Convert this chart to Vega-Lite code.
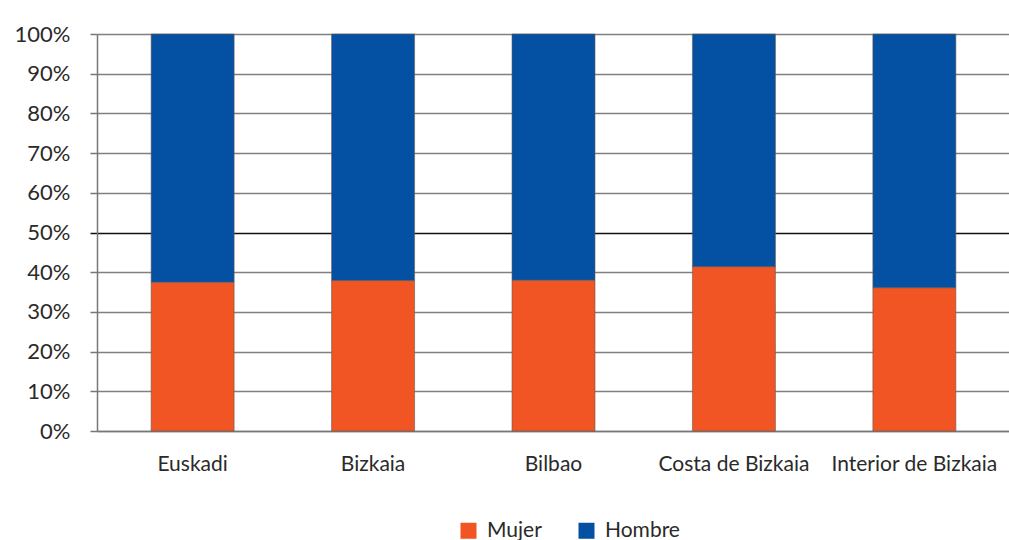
{
  "$schema": "https://vega.github.io/schema/vega-lite/v6.json",
  "autosize": {"type": "none"},
  "padding": {"left": 97, "top": 34, "right": 0, "bottom": 109},
  "width": 913,
  "height": 397,
  "background": "white",
  "config": {
    "font": "Lato",
    "view": {"stroke": null}
  },
  "data": {
    "values": [
      {"zona": "Euskadi", "sexo": "Mujer", "valor": 37.5},
      {"zona": "Euskadi", "sexo": "Hombre", "valor": 62.5},
      {"zona": "Bizkaia", "sexo": "Mujer", "valor": 37.9},
      {"zona": "Bizkaia", "sexo": "Hombre", "valor": 62.1},
      {"zona": "Bilbao", "sexo": "Mujer", "valor": 38.0},
      {"zona": "Bilbao", "sexo": "Hombre", "valor": 62.0},
      {"zona": "Costa de Bizkaia", "sexo": "Mujer", "valor": 41.4},
      {"zona": "Costa de Bizkaia", "sexo": "Hombre", "valor": 58.6},
      {"zona": "Interior de Bizkaia", "sexo": "Mujer", "valor": 36.1},
      {"zona": "Interior de Bizkaia", "sexo": "Hombre", "valor": 63.9}
    ]
  },
  "mark": {"type": "bar", "stroke": "#6a5a50", "strokeWidth": 0.6},
  "encoding": {
    "x": {
      "field": "zona",
      "type": "nominal",
      "sort": ["Euskadi", "Bizkaia", "Bilbao", "Costa de Bizkaia", "Interior de Bizkaia"],
      "scale": {"paddingInner": 0.54, "paddingOuter": 0.3},
      "axis": {
        "title": null,
        "labelAngle": 0,
        "labelFontSize": 21,
        "labelColor": "#2a2a2a",
        "labelPadding": 22,
        "ticks": false,
        "domain": true,
        "domainColor": "#777777",
        "domainWidth": 1.5,
        "labelOverlap": false,
        "labelBound": false
      }
    },
    "y": {
      "field": "valor",
      "type": "quantitative",
      "stack": "normalize",
      "scale": {"domain": [0, 1]},
      "axis": {
        "title": null,
        "format": ".0%",
        "values": [0, 0.1, 0.2, 0.3, 0.4, 0.5, 0.6, 0.7, 0.8, 0.9, 1],
        "labelFontSize": 22,
        "labelColor": "#2a2a2a",
        "labelPadding": 20,
        "tickSize": 7,
        "tickColor": {"condition": {"test": "datum.value === 0.5", "value": "#111111"}, "value": "#777777"},
        "tickWidth": 1.5,
        "domainColor": "#777777",
        "domainWidth": 1.5,
        "grid": true,
        "gridColor": {"condition": {"test": "datum.value === 0.5", "value": "#111111"}, "value": "#808080"},
        "gridWidth": 1.5
      }
    },
    "color": {
      "field": "sexo",
      "type": "nominal",
      "sort": ["Mujer", "Hombre"],
      "scale": {"domain": ["Mujer", "Hombre"], "range": ["#F05523", "#0450A3"]},
      "legend": {
        "title": null,
        "orient": "none",
        "direction": "horizontal",
        "legendX": 361,
        "legendY": 486,
        "symbolType": "square",
        "symbolSize": 256,
        "symbolStrokeWidth": 0,
        "labelFontSize": 21,
        "labelColor": "#2a2a2a",
        "labelOffset": 8,
        "columnPadding": 34
      }
    }
  }
}
